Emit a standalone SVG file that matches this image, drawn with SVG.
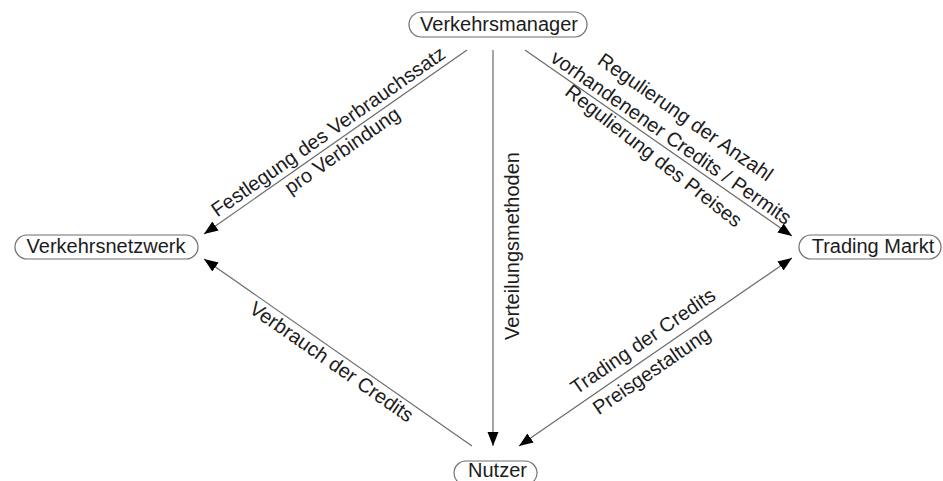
<svg xmlns="http://www.w3.org/2000/svg" width="943" height="481" viewBox="0 0 943 481">
<style>
.pill{fill:#fff;stroke:#6e6e6e;stroke-width:1.2}
.t{font-family:"Liberation Sans",Arial,sans-serif;font-size:20px;fill:#1c1c1c;text-anchor:middle}
.c{stroke:#6a6a6a;stroke-width:1.2;fill:none;marker-end:url(#ah)}
</style>
<defs>
<marker id="ah" markerUnits="userSpaceOnUse" markerWidth="15" markerHeight="12" refX="14" refY="5.5" orient="auto-start-reverse" viewBox="0 0 15 12">
<path d="M0,0 L14,5.5 L0,11 z" fill="#000"/>
</marker>
</defs>
<rect width="943" height="481" fill="#fff"/>
<g id="connectors">
<line class="c" x1="467" y1="50" x2="204" y2="234"/>
<line class="c" x1="525" y1="50" x2="792" y2="236"/>
<line class="c" x1="493" y1="50" x2="493" y2="446"/>
<line class="c" x1="472" y1="446" x2="204" y2="259"/>
<line class="c" x1="519" y1="446" x2="792" y2="258" style="marker-start:url(#ah)"/>
<text class="t" transform="translate(332.1,137.1) rotate(-34.98)">Festlegung des Verbrauchssatz</text>
<text class="t" transform="translate(346,156) rotate(-34.98)">pro Verbindung</text>
<text class="t" transform="translate(681.6,122.6) rotate(34.85)">Regulierung der Anzahl</text>
<text class="t" transform="translate(667.4,143.1) rotate(34.85)">vorhandenener Credits / Permits</text>
<text class="t" transform="translate(649.6,161.1) rotate(38)">Regulierung des Preises</text>
<text class="t" transform="translate(519,246) rotate(-90)">Verteilungsmethoden</text>
<text class="t" transform="translate(327.7,367.3) rotate(34.9)">Verbrauch der Credits</text>
<text class="t" transform="translate(646.8,346.7) rotate(-34.55)">Trading der Credits</text>
<text class="t" transform="translate(655.5,376.3) rotate(-34.55)">Preisgestaltung</text>
</g>
<g id="verkehrsmanager">
<rect class="pill" x="409" y="12" width="178" height="25" rx="12.5"/>
<text class="t" x="499" y="31">Verkehrsmanager</text>
</g>
<g id="verkehrsnetzwerk">
<rect class="pill" x="15" y="235" width="183" height="24" rx="12"/>
<text class="t" x="106" y="253">Verkehrsnetzwerk</text>
</g>
<g id="trading-markt">
<rect class="pill" x="799" y="235" width="142" height="24" rx="12"/>
<text class="t" x="873" y="253">Trading Markt</text>
</g>
<g id="nutzer">
<rect class="pill" x="454" y="461" width="83" height="24" rx="12"/>
<text class="t" x="497.5" y="477">Nutzer</text>
</g>
</svg>
